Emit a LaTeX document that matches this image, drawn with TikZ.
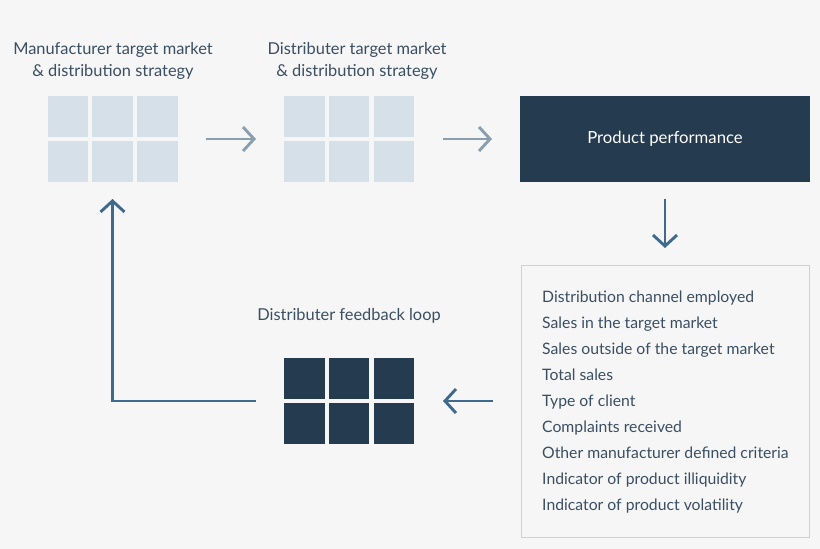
\documentclass[tikz,border=0pt]{standalone}
\usepackage{fontspec}
\setmainfont{Lato}
\usetikzlibrary{arrows.meta}
\definecolor{bgc}{HTML}{F6F6F6}
\definecolor{navy}{HTML}{243B50}
\definecolor{pale}{HTML}{D6E0E8}
\definecolor{steel}{HTML}{3F6A8C}
\definecolor{greyarrow}{HTML}{8A9EAE}
\definecolor{txt}{HTML}{3A4F62}
\definecolor{edge}{HTML}{D0D0D0}
\tikzset{
  x=1pt,y=-1pt,
  cell/.style={minimum width=40.5pt,minimum height=41pt,inner sep=0pt,outer sep=0pt,fill=#1},
  gridbox/.style={minimum width=130pt,minimum height=86pt,inner sep=0pt,outer sep=0pt},
  title/.style={font=\fontsize{16.4pt}{22.5pt}\selectfont,text=txt,align=center,inner sep=0pt},
  flow/.style={line width=2.9pt,-{Straight Barb[length=11pt,width=24pt,line width=2.9pt]}},
  lightflow/.style={flow,draw=greyarrow},
  darkflow/.style={flow,draw=steel},
}
\newcommand{\gridcells}[2]{%
  \foreach \cx/\cy/\cn in {-44.75/-22.5/a,0/-22.5/b,44.75/-22.5/c,-44.75/22.5/d,0/22.5/e,44.75/22.5/f}
    \node[cell=#2,xshift=\cx pt,yshift=-\cy pt] (#1\cn) at (#1) {};
}
\begin{document}
\begin{tikzpicture}
\useasboundingbox[fill=bgc] (0,0) rectangle (820,549);
\node[gridbox] (g1) at (112.5,139) {};
\node[gridbox] (g2) at (349,139) {};
\node[gridbox] (g3) at (349,401) {};
\gridcells{g1}{pale}
\gridcells{g2}{pale}
\gridcells{g3}{navy}
\node[minimum width=290pt,minimum height=86pt,inner sep=0pt,outer sep=0pt,fill=navy,text=white,font=\fontsize{16.7pt}{20pt}\selectfont] (perf) at (665,139) {Product performance};
\node[draw=edge,line width=1pt,minimum width=288pt,minimum height=272pt,inner sep=0pt,outer sep=0pt] (list) at (665,401) {};
\node[anchor=west,text=txt,align=left,inner sep=0pt,font=\fontsize{15.75pt}{26pt}\selectfont] (items) at (542,402) {Distribution channel employed\\Sales in the target market\\Sales outside of the target market\\Total sales\\Type of client\\Complaints received\\Other manufacturer defined criteria\\Indicator of product illiquidity\\Indicator of product volatility};
\node[title] (t1) at (113,61) {Manufacturer target market\\\& distribution strategy};
\node[title] (t2) at (357,61) {Distributer target market\\\& distribution strategy};
\node[title] (t3) at (349,316) {Distributer feedback loop};
\coordinate (turn) at (g1.south |- g3.west);
\draw[lightflow] ([xshift=28pt]g1.east) -- ([xshift=-28pt]g2.west);
\draw[lightflow] ([xshift=29pt]g2.east) -- ([xshift=-28pt]perf.west);
\draw[darkflow] ([yshift=-17pt]perf.south) -- ([yshift=17pt]list.north);
\draw[darkflow] ([xshift=-28pt]list.west) -- ([xshift=29pt]g3.east);
\draw[darkflow,line join=miter] ([xshift=-28pt]g3.west) -- (turn) -- ([yshift=-17pt]g1.south);
\end{tikzpicture}
\end{document}
